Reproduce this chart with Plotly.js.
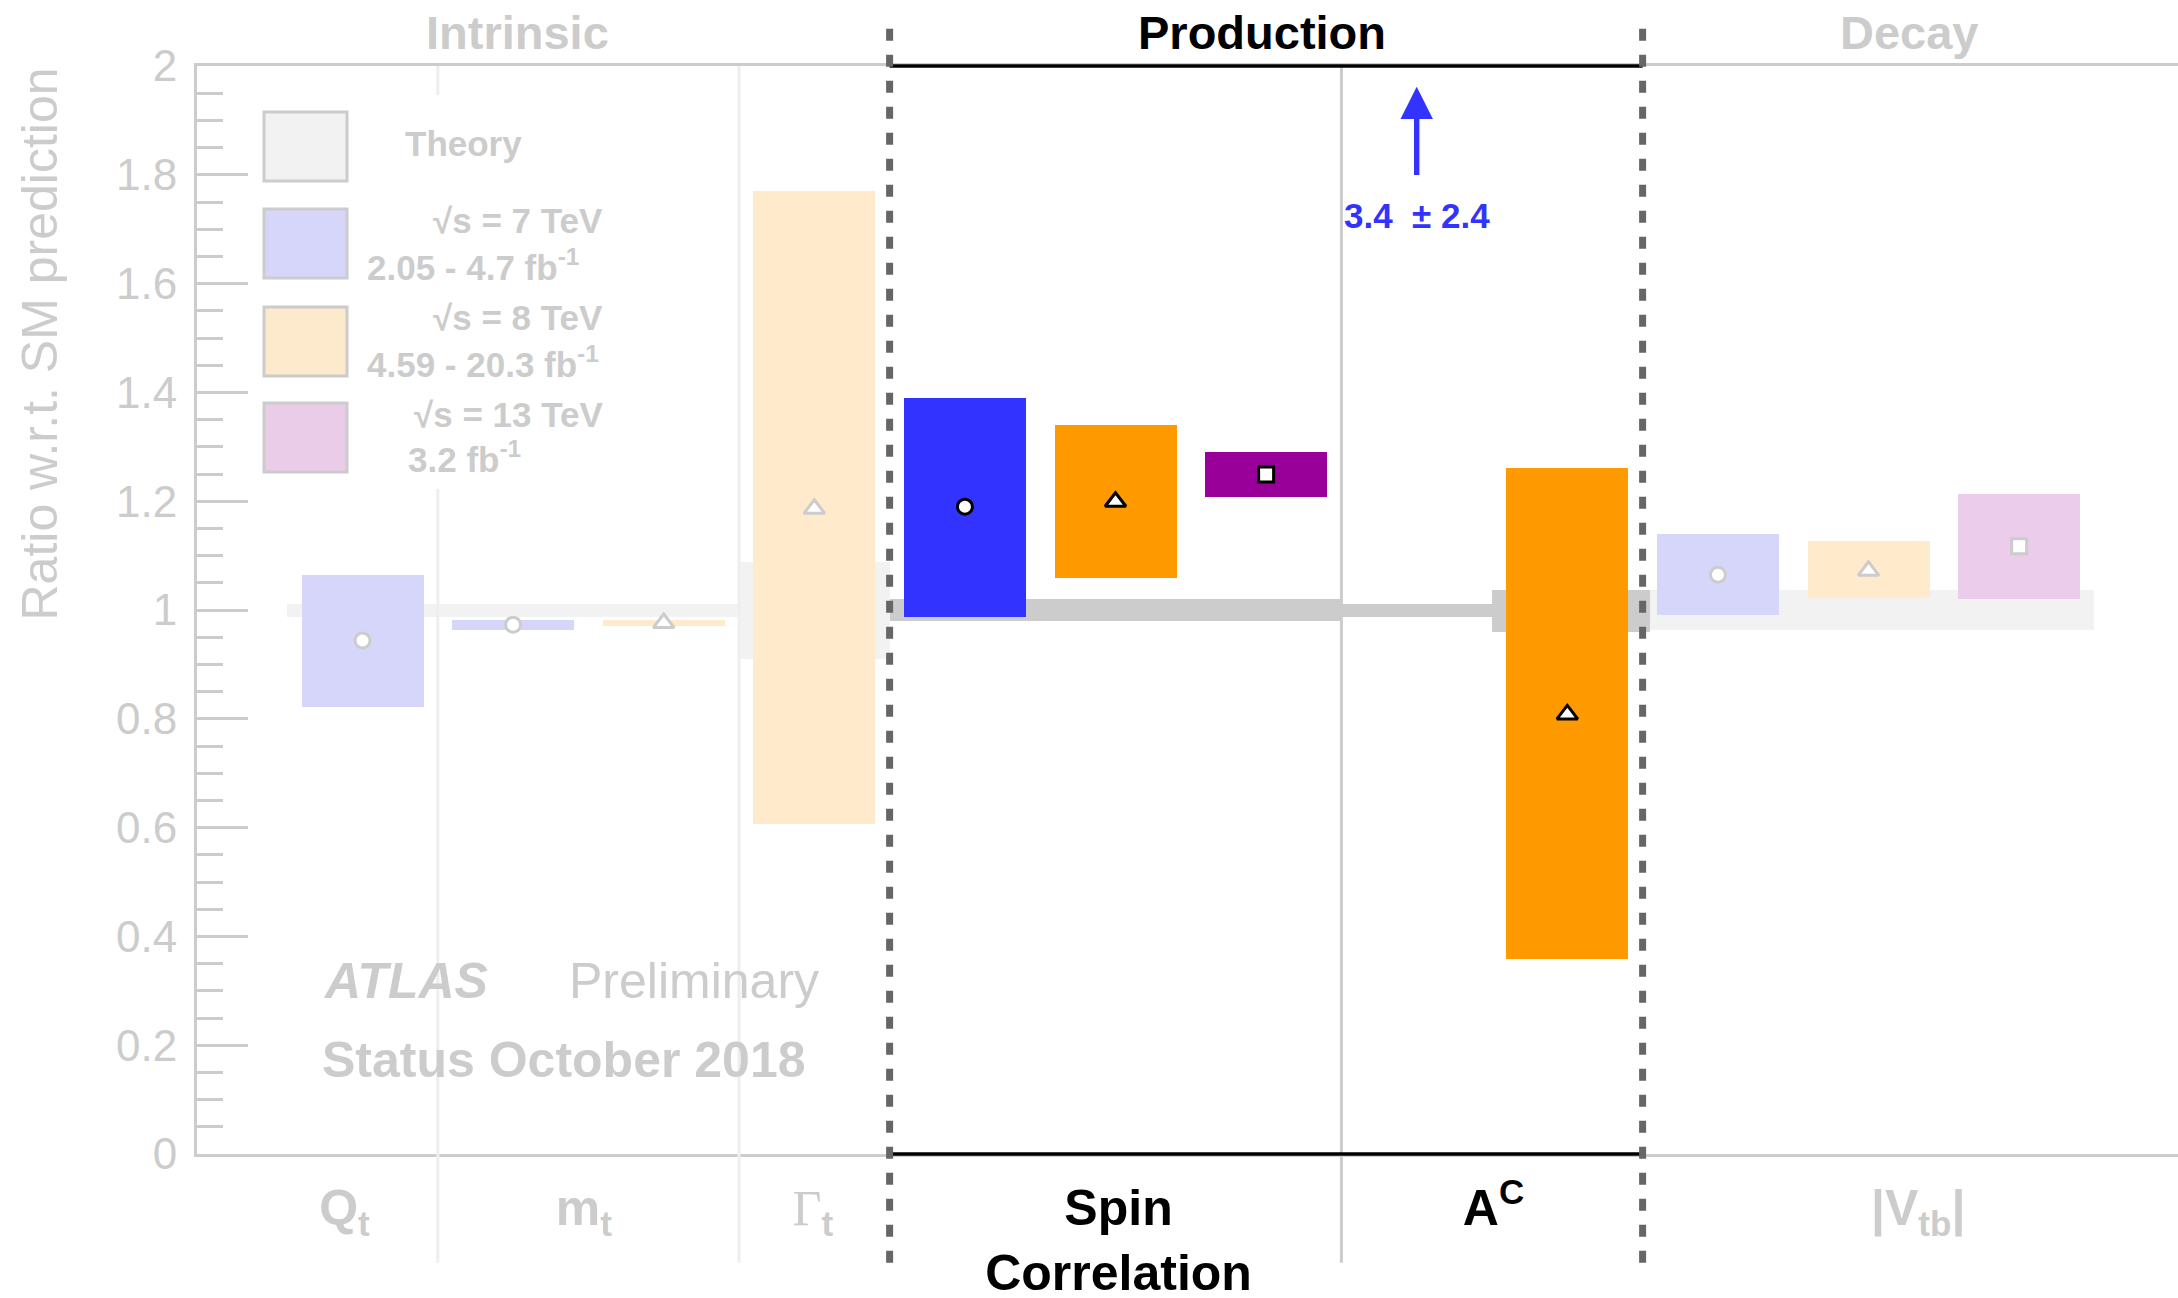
<!DOCTYPE html>
<html><head><meta charset="utf-8">
<script src="https://cdn.plot.ly/plotly-3.0.1.min.js"></script>
<style>html,body{margin:0;padding:0;background:#fff;}</style>
</head><body>
<div id="chart" style="width:2178px;height:1298px"></div>
<script>
// ---------------- DATA ----------------
// x-axis category labels and their positions (slot units)
const categoryLabels = ['Q<sub>t</sub>', 'm<sub>t</sub>', '<span style="font-family:Liberation Serif;font-weight:normal">Γ</span><sub>t</sub>', 'Spin<br>Correlation', 'A<sup>C</sup>', '|V<sub>tb</sub>|'];
const categoryPos    = [-0.12, 1.47, 2.99, 5.02, 7.51, 10.33];
const categoryFocus  = [false, false, false, true, true, false];

// measurements (ratio to SM prediction)
const measSlot    = [0, 1, 2, 3, 4, 5, 6, 8, 9, 10, 11];
const measEnergy  = [7, 7, 8, 8, 7, 8, 13, 8, 7, 8, 13];
const measCentral = [0.944, 0.973, 0.976, 1.186, 1.190, 1.199, 1.249, 0.808, 1.065, 1.072, 1.117];
const measLow     = [0.822, 0.963, 0.970, 0.606, 0.988, 1.058, 1.207, 0.358, 0.990, 1.022, 1.021];
const measHigh    = [1.065, 0.981, 0.982, 1.770, 1.390, 1.341, 1.291, 1.261, 1.139, 1.127, 1.213];
const measFocus   = [false, false, false, false, true, true, true, true, false, false, false];

// off-scale measurement (A^C at 7 TeV)
const offSlot  = [7];
const offValue = [3.4];
const offError = [2.4];

// theory bands
const theoryFrom  = [-0.5, 2.5, 3.5, 6.5, 7.5, 8.55];
const theoryTo    = [2.5, 3.5, 6.5, 7.5, 8.55, 11.5];
const theoryLow   = [0.988, 0.910, 0.979, 0.988, 0.960, 0.963];
const theoryHigh  = [1.011, 1.089, 1.021, 1.011, 1.036, 1.036];
const theoryFocus = [false, false, true, true, true, false];

// sections
const sectionNames  = ['Intrinsic', 'Production', 'Decay'];
const sectionPos    = [1.03, 5.97, 10.27];
const sectionFocus  = [false, true, false];
const sectionBounds = [3.5, 8.5];
const subSeparators = [0.5, 2.5, 6.5];
const subSepFocus   = [false, false, true];

// legend
const legendLine1 = ['Theory', '√s = 7 TeV', '√s = 8 TeV', '√s = 13 TeV'];
const legendLine2 = ['', '2.05 - 4.7 fb<sup>-1</sup>', '4.59 - 20.3 fb<sup>-1</sup>', '3.2 fb<sup>-1</sup>'];

// ---------------- STYLE ----------------
const GRAY = '#cccccc';
const strongColor = {7: '#3333ff', 8: '#ff9900', 13: '#990099'};
const fadedColor  = {7: '#d6d6fb', 8: '#ffebcc', 13: '#ebcceb'};
const symbolOf    = {7: 'circle', 8: 'triangle-up', 13: 'square'};
const symbolSize  = {7: 15, 8: 18, 13: 15};
const legendFill  = ['#f2f2f2', '#d6d6fb', '#fde9cc', '#eacbe8'];
const FONT = 'Liberation Sans, Arial, Helvetica, sans-serif';

const W = 2178, H = 1298, L = 197, R = 2178, T = 66, B = 1154;
const px2x = p => (p - L) / (R - L);
const py2y = p => (B - p) / (B - T);
const BARW = 0.81;

// ---------------- TRACES ----------------
const traces = [];

// theory bands
traces.push({
  type: 'bar',
  x: theoryFrom.map((f, i) => (f + theoryTo[i]) / 2),
  width: theoryFrom.map((f, i) => theoryTo[i] - f),
  base: theoryLow,
  y: theoryHigh.map((h, i) => h - theoryLow[i]),
  marker: {color: theoryFocus.map(f => f ? '#cccccc' : '#f2f2f2'), line: {width: 0}},
  hoverinfo: 'skip', showlegend: false
});

// measurement bars
traces.push({
  type: 'bar',
  x: measSlot,
  width: measSlot.map(() => BARW),
  base: measLow,
  y: measHigh.map((h, i) => h - measLow[i]),
  marker: {color: measEnergy.map((e, i) => measFocus[i] ? strongColor[e] : fadedColor[e]), line: {width: 0}},
  hoverinfo: 'skip', showlegend: false
});

// central values markers, one trace per energy
[7, 8, 13].forEach(e => {
  const idx = measEnergy.map((v, i) => v === e ? i : -1).filter(i => i >= 0);
  traces.push({
    type: 'scatter', mode: 'markers',
    x: idx.map(i => measSlot[i]),
    y: idx.map(i => measCentral[i]),
    marker: {symbol: symbolOf[e], size: symbolSize[e], color: '#ffffff',
             line: {width: 3, color: idx.map(i => measFocus[i] ? '#000000' : GRAY)}},
    hoverinfo: 'skip', showlegend: false
  });
});

// ---------------- SHAPES ----------------
const shapes = [];
subSeparators.forEach((s, i) => shapes.push({
  type: 'line', xref: 'x', yref: 'paper', x0: s, x1: s, y0: -0.1, y1: 1,
  line: {color: subSepFocus[i] ? '#cccccc' : '#eeeeee', width: 3}, layer: 'above'
}));
// white panel behind legend
shapes.push({type: 'rect', xref: 'paper', yref: 'paper', x0: px2x(252), x1: px2x(640), y0: py2y(489), y1: py2y(95),
  fillcolor: '#ffffff', line: {width: 0}, layer: 'above'});
// black axis segments for production
shapes.push({type: 'line', xref: 'x', yref: 'paper', x0: sectionBounds[0], x1: sectionBounds[1], y0: 1, y1: 1, line: {color: '#000', width: 3.5}, layer: 'above'});
shapes.push({type: 'line', xref: 'x', yref: 'paper', x0: sectionBounds[0], x1: sectionBounds[1], y0: 0, y1: 0, line: {color: '#000', width: 3.5}, layer: 'above'});
// dashed section boundaries
sectionBounds.forEach(s => shapes.push({
  type: 'line', xref: 'x', yref: 'paper', x0: s, x1: s, y0: -0.1, y1: py2y(16.6),
  line: {color: '#666666', width: 7, dash: '12px,14px'}, layer: 'above'
}));
// legend boxes
const boxTop = [112, 209, 307, 403];
boxTop.forEach((t, i) => shapes.push({
  type: 'rect', xref: 'paper', yref: 'paper', x0: px2x(264), x1: px2x(347), y0: py2y(t + 69), y1: py2y(t),
  fillcolor: legendFill[i], line: {color: GRAY, width: 3}, layer: 'above'
}));

// ---------------- ANNOTATIONS ----------------
const ann = [];
// y-axis title
ann.push({text: 'Ratio w.r.t. SM prediction', xref: 'paper', yref: 'paper', x: px2x(39), y: 1, xanchor: 'center', yanchor: 'top',
  textangle: -90, showarrow: false, font: {family: FONT, size: 50, color: GRAY}});
// section titles
sectionNames.forEach((n, i) => ann.push({
  text: '<b>' + n + '</b>', xref: 'x', yref: 'paper', x: sectionPos[i], y: py2y(32), xanchor: 'center', yanchor: 'middle',
  showarrow: false, font: {family: FONT, size: 47, color: sectionFocus[i] ? '#000' : GRAY}
}));
// off-scale arrow and label
offSlot.forEach((s, i) => {
  ann.push({text: '', xref: 'x', yref: 'y', axref: 'x', ayref: 'y', x: s, y: 1.962, ax: s, ay: 1.797,
    showarrow: true, arrowhead: 2, arrowsize: 1.2, arrowwidth: 5.4, arrowcolor: strongColor[7], standoff: 0, startstandoff: 0});
  ann.push({text: '<b>' + offValue[i] + '  ± ' + offError[i] + '</b>', xref: 'x', yref: 'y', x: s, y: 1.726,
    xanchor: 'center', yanchor: 'middle', showarrow: false, font: {family: FONT, size: 35, color: strongColor[7]}});
});
// legend texts
const lgFont = {family: FONT, size: 35, color: GRAY};
ann.push({text: '<b>' + legendLine1[0] + '</b>', xref: 'paper', yref: 'paper', x: px2x(463), y: py2y(143), xanchor: 'center', yanchor: 'middle', showarrow: false, font: lgFont});
const l1Y = [220, 317, 414.7], l2Y = [264.5, 362, 457], l2X = [364.5, 364.5, 406];
for (let i = 1; i < 4; i++) {
  ann.push({text: '<b>' + legendLine1[i] + '</b>', xref: 'paper', yref: 'paper', x: px2x(605), y: py2y(l1Y[i - 1]), xanchor: 'right', yanchor: 'middle', showarrow: false, font: lgFont});
  ann.push({text: '<b>' + legendLine2[i] + '</b>', xref: 'paper', yref: 'paper', x: px2x(l2X[i - 1]), y: py2y(l2Y[i - 1]), xanchor: 'left', yanchor: 'middle', showarrow: false, font: lgFont});
}
// ATLAS label
ann.push({text: '<b><i>ATLAS</i></b>', xref: 'paper', yref: 'paper', x: px2x(321), y: py2y(980.7), xanchor: 'left', yanchor: 'middle', showarrow: false, font: {family: FONT, size: 50, color: GRAY}});
ann.push({text: 'Preliminary', xref: 'paper', yref: 'paper', x: px2x(567), y: py2y(980.7), xanchor: 'left', yanchor: 'middle', showarrow: false, font: {family: FONT, size: 50, color: GRAY}});
ann.push({text: '<b>Status October 2018</b>', xref: 'paper', yref: 'paper', x: px2x(320), y: py2y(1059.7), xanchor: 'left', yanchor: 'middle', showarrow: false, font: {family: FONT, size: 50, color: GRAY}});

// ---------------- LAYOUT ----------------
const layout = {
  width: W, height: H,
  margin: {l: L, r: W - R, t: T, b: H - B, pad: 0},
  paper_bgcolor: '#ffffff', plot_bgcolor: '#ffffff',
  barmode: 'overlay', bargap: 0, showlegend: false, hovermode: false,
  font: {family: FONT},
  xaxis: {
    range: [-1.099, 12.055], showgrid: false, zeroline: false,
    showline: true, linecolor: GRAY, linewidth: 3, mirror: true,
    ticks: '', tickmode: 'array', tickvals: categoryPos,
    ticktext: categoryLabels.map((c, i) => '<b><span style="color:' + (categoryFocus[i] ? '#000000' : GRAY) + '">' + c + '</span></b>'),
    tickfont: {family: FONT, size: 50, color: GRAY}, ticklabelstandoff: 8
  },
  yaxis: {
    range: [0, 2], showgrid: false, zeroline: false,
    showline: true, linecolor: GRAY, linewidth: 3,
    ticks: 'inside', ticklen: 51, tickwidth: 3, tickcolor: GRAY, dtick: 0.2, tick0: 0,
    minor: {dtick: 0.05, ticks: 'inside', ticklen: 26, tickwidth: 3, tickcolor: GRAY, showgrid: false},
    tickfont: {family: FONT, size: 44, color: GRAY}, ticklabelstandoff: 8
  },
  shapes: shapes,
  annotations: ann
};

Plotly.newPlot('chart', traces, layout, {displayModeBar: false, staticPlot: true});
</script>
</body></html>
